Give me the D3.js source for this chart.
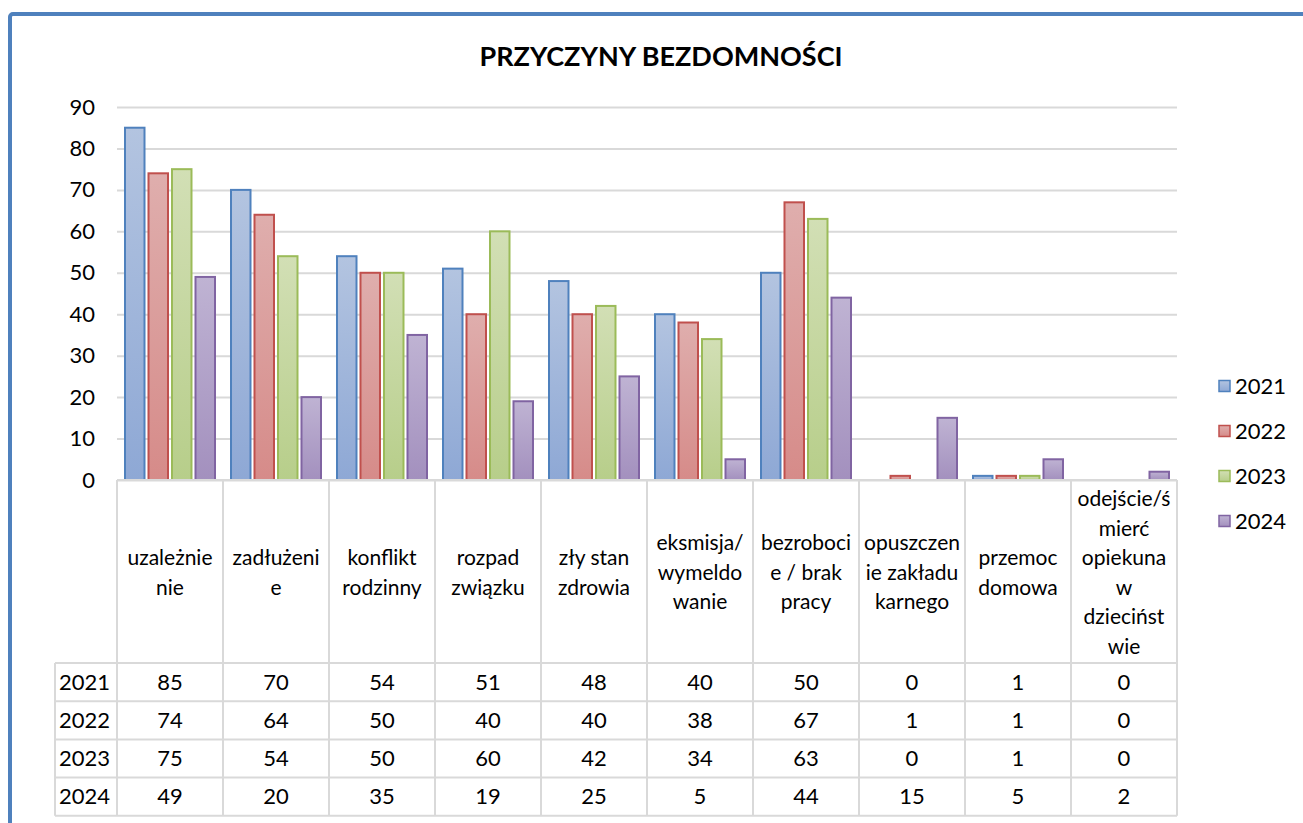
<!DOCTYPE html>
<html>
<head>
<meta charset="utf-8">
<script src="https://cdn.jsdelivr.net/npm/d3@7"></script>
<style>
    body { margin: 0; background: #fff; }
    text { font-family: Lato, "Open Sans", sans-serif; fill: #000; }
</style>
</head>
<body>
<div id="chart"></div>
<script>
// categories, as wrapped in the data table header
var categories = [
    ["uzależnie", "nie"],
    ["zadłużeni", "e"],
    ["konflikt", "rodzinny"],
    ["rozpad", "związku"],
    ["zły stan", "zdrowia"],
    ["eksmisja/", "wymeldo", "wanie"],
    ["bezroboci", "e / brak", "pracy"],
    ["opuszczen", "ie zakładu", "karnego"],
    ["przemoc", "domowa"],
    ["odejście/ś", "mierć", "opiekuna", "w", "dziecińst", "wie"]
];
var years = ["2021", "2022", "2023", "2024"];
var v2021 = [85, 70, 54, 51, 48, 40, 50, 0, 1, 0];
var v2022 = [74, 64, 50, 40, 40, 38, 67, 1, 1, 0];
var v2023 = [75, 54, 50, 60, 42, 34, 63, 0, 1, 0];
var v2024 = [49, 20, 35, 19, 25, 5, 44, 15, 5, 2];
var yTicks = [0, 10, 20, 30, 40, 50, 60, 70, 80, 90];

var seriesValues = [v2021, v2022, v2023, v2024];
var strokeCol = ["#4F81BD", "#C0504D", "#9BBB59", "#8064A2"];
var gradTop = ["#B3C4E0", "#DFAEAD", "#D2DFB5", "#BFB3D3"];
var gradBot = ["#8EA8D5", "#D68B89", "#B7CE8A", "#A390BE"];

var w = 1303, h = 823;
var plotL = 117, plotR = 1177, plotT = 107, zeroY = 480;
var rowTop = 663, rowH = 38.2, yearColX = 55;

var svg = d3.select("#chart").append("svg")
    .attr("width", w)
    .attr("height", h);

var defs = svg.append("defs");
years.forEach(function (y, i) {
    var g = defs.append("linearGradient")
        .attr("id", "grad" + i)
        .attr("x1", 0).attr("y1", 0).attr("x2", 0).attr("y2", 1);
    g.append("stop").attr("offset", "0%").attr("stop-color", gradTop[i]);
    g.append("stop").attr("offset", "100%").attr("stop-color", gradBot[i]);
});

// outer frame
svg.append("rect")
    .attr("x", 10).attr("y", 14)
    .attr("width", 1400).attr("height", 1000)
    .attr("rx", 3)
    .attr("fill", "#fff")
    .attr("stroke", "#4F81BD")
    .attr("stroke-width", 4);

// title
svg.append("text")
    .attr("x", 661).attr("y", 66)
    .attr("text-anchor", "middle")
    .style("font-size", "27px")
    .style("font-weight", "bold")
    .text("PRZYCZYNY BEZDOMNOŚCI");

var yscale = d3.scaleLinear()
    .domain([0, 90])
    .range([zeroY, plotT]);

var xscale = d3.scaleBand()
    .domain(d3.range(categories.length))
    .range([plotL, plotR]);

var sscale = d3.scaleBand()
    .domain(d3.range(years.length))
    .range([8, 98])
    .paddingInner(0.17);

var yaxis = d3.axisLeft(yscale)
    .tickValues(yTicks)
    .tickSizeInner(-(plotR - plotL))
    .tickSizeOuter(0)
    .tickPadding(22);

var ag = svg.append("g")
    .attr("transform", "translate(" + plotL + ",0)")
    .call(yaxis);
ag.select(".domain").remove();
ag.selectAll(".tick line")
    .attr("stroke", "#D9D9D9")
    .attr("stroke-width", 2);
ag.selectAll(".tick text")
    .style("font-size", "22px")
    .style("font-family", "Lato, 'Open Sans', sans-serif")
    .attr("fill", "#000");

// bars
seriesValues.forEach(function (vals, si) {
    svg.append("g").selectAll("rect")
        .data(vals)
        .enter().append("rect")
        .attr("x", function (d, i) { return xscale(i) + sscale(si); })
        .attr("y", function (d) { return yscale(d); })
        .attr("width", sscale.bandwidth())
        .attr("height", function (d) { return zeroY - yscale(d); })
        .attr("fill", "url(#grad" + si + ")")
        .attr("stroke", strokeCol[si])
        .attr("stroke-width", 2)
        .style("display", function (d) { return d > 0 ? null : "none"; });
});

// data table
var rscale = d3.scaleBand()
    .domain(d3.range(years.length))
    .range([rowTop, rowTop + rowH * years.length]);
var tableBottom = rowTop + rowH * years.length;
var tg = svg.append("g");
var gridCol = "#D9D9D9";

tg.append("line")
    .attr("x1", plotL).attr("x2", plotR)
    .attr("y1", zeroY).attr("y2", zeroY)
    .attr("stroke", gridCol).attr("stroke-width", 2);

tg.selectAll(".vline")
    .data(d3.range(categories.length + 1))
    .enter().append("line")
    .attr("x1", function (i) { return plotL + i * xscale.step(); })
    .attr("x2", function (i) { return plotL + i * xscale.step(); })
    .attr("y1", zeroY).attr("y2", tableBottom)
    .attr("stroke", gridCol).attr("stroke-width", 2);

tg.append("line")
    .attr("x1", yearColX).attr("x2", yearColX)
    .attr("y1", rowTop).attr("y2", tableBottom)
    .attr("stroke", gridCol).attr("stroke-width", 2);

tg.selectAll(".hline")
    .data(d3.range(years.length + 1))
    .enter().append("line")
    .attr("x1", yearColX).attr("x2", plotR)
    .attr("y1", function (i) { return rowTop + i * rscale.step(); })
    .attr("y2", function (i) { return rowTop + i * rscale.step(); })
    .attr("stroke", gridCol).attr("stroke-width", 2);

// header labels
var lineH = 29.5;
var headMid = (zeroY + rowTop) / 2 + 1;
categories.forEach(function (lines, i) {
    var t = svg.append("text")
        .attr("text-anchor", "middle")
        .style("font-size", "21px");
    var y0 = headMid - (lines.length - 1) * lineH / 2;
    lines.forEach(function (l, k) {
        t.append("tspan")
            .attr("x", xscale(i) + xscale.bandwidth() / 2)
            .attr("y", y0 + k * lineH)
            .attr("dy", "0.35em")
            .text(l);
    });
});

// value rows
seriesValues.forEach(function (vals, si) {
    var cy = rscale(si) + rscale.bandwidth() / 2;
    svg.append("text")
        .attr("x", yearColX + 4)
        .attr("y", cy)
        .attr("dy", "0.35em")
        .style("font-size", "22px")
        .text(years[si]);
    svg.append("g").selectAll("text")
        .data(vals)
        .enter().append("text")
        .attr("x", function (d, i) { return xscale(i) + xscale.bandwidth() / 2; })
        .attr("y", cy)
        .attr("dy", "0.35em")
        .attr("text-anchor", "middle")
        .style("font-size", "22px")
        .text(function (d) { return d; });
});

// legend
var lg = svg.append("g").selectAll("g")
    .data(years)
    .enter().append("g")
    .attr("transform", function (d, i) { return "translate(1219," + (386 + i * 45) + ")"; });
lg.append("rect")
    .attr("x", 0).attr("y", -5.5)
    .attr("width", 11).attr("height", 11)
    .attr("fill", function (d, i) { return "url(#grad" + i + ")"; })
    .attr("stroke", function (d, i) { return strokeCol[i]; })
    .attr("stroke-width", 1.5);
lg.append("text")
    .attr("x", 16).attr("y", 0)
    .attr("dy", "0.35em")
    .style("font-size", "22px")
    .text(function (d) { return d; });
</script>
</body>
</html>
